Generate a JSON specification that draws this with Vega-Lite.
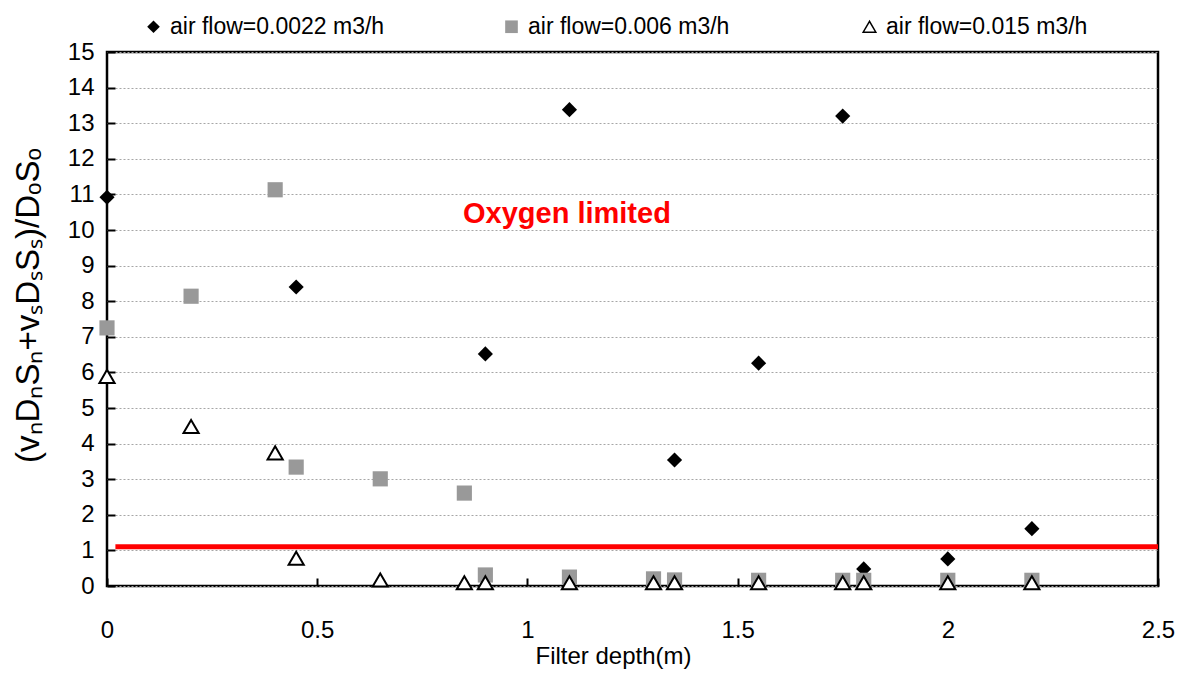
{
  "$schema": "https://vega.github.io/schema/vega-lite/v6.json",
  "width": 1051,
  "height": 534,
  "autosize": {"type": "none"},
  "padding": {"left": 107, "top": 52, "right": 28, "bottom": 87},
  "background": "white",
  "config": {
    "font": "Liberation Sans",
    "view": {"stroke": "black", "strokeWidth": 2.5},
    "axis": {"labelColor": "black", "titleColor": "black", "labelFont": "Liberation Sans", "titleFont": "Liberation Sans"}
  },
  "layer": [
    {
      "data": {"values": [
        {"series": "air flow=0.0022 m3/h", "depth": 0, "ratio": 10.92},
        {"series": "air flow=0.0022 m3/h", "depth": 0.45, "ratio": 8.4},
        {"series": "air flow=0.0022 m3/h", "depth": 0.9, "ratio": 6.52},
        {"series": "air flow=0.0022 m3/h", "depth": 1.1, "ratio": 13.38},
        {"series": "air flow=0.0022 m3/h", "depth": 1.35, "ratio": 3.54},
        {"series": "air flow=0.0022 m3/h", "depth": 1.55, "ratio": 6.26},
        {"series": "air flow=0.0022 m3/h", "depth": 1.75, "ratio": 13.2},
        {"series": "air flow=0.0022 m3/h", "depth": 1.8, "ratio": 0.48},
        {"series": "air flow=0.0022 m3/h", "depth": 2.0, "ratio": 0.76},
        {"series": "air flow=0.0022 m3/h", "depth": 2.2, "ratio": 1.61},
        {"series": "air flow=0.006 m3/h", "depth": 0, "ratio": 7.25},
        {"series": "air flow=0.006 m3/h", "depth": 0.2, "ratio": 8.14},
        {"series": "air flow=0.006 m3/h", "depth": 0.4, "ratio": 11.13},
        {"series": "air flow=0.006 m3/h", "depth": 0.45, "ratio": 3.34},
        {"series": "air flow=0.006 m3/h", "depth": 0.65, "ratio": 3.01},
        {"series": "air flow=0.006 m3/h", "depth": 0.85, "ratio": 2.61},
        {"series": "air flow=0.006 m3/h", "depth": 0.9, "ratio": 0.31},
        {"series": "air flow=0.006 m3/h", "depth": 1.1, "ratio": 0.25},
        {"series": "air flow=0.006 m3/h", "depth": 1.3, "ratio": 0.2},
        {"series": "air flow=0.006 m3/h", "depth": 1.35, "ratio": 0.17},
        {"series": "air flow=0.006 m3/h", "depth": 1.55, "ratio": 0.16},
        {"series": "air flow=0.006 m3/h", "depth": 1.75, "ratio": 0.16},
        {"series": "air flow=0.006 m3/h", "depth": 1.8, "ratio": 0.16},
        {"series": "air flow=0.006 m3/h", "depth": 2.0, "ratio": 0.16},
        {"series": "air flow=0.006 m3/h", "depth": 2.2, "ratio": 0.16},
        {"series": "air flow=0.015 m3/h", "depth": 0, "ratio": 5.89},
        {"series": "air flow=0.015 m3/h", "depth": 0.2, "ratio": 4.48},
        {"series": "air flow=0.015 m3/h", "depth": 0.4, "ratio": 3.74},
        {"series": "air flow=0.015 m3/h", "depth": 0.45, "ratio": 0.78},
        {"series": "air flow=0.015 m3/h", "depth": 0.65, "ratio": 0.17},
        {"series": "air flow=0.015 m3/h", "depth": 0.85, "ratio": 0.09},
        {"series": "air flow=0.015 m3/h", "depth": 0.9, "ratio": 0.09},
        {"series": "air flow=0.015 m3/h", "depth": 1.1, "ratio": 0.09},
        {"series": "air flow=0.015 m3/h", "depth": 1.3, "ratio": 0.09},
        {"series": "air flow=0.015 m3/h", "depth": 1.35, "ratio": 0.09},
        {"series": "air flow=0.015 m3/h", "depth": 1.55, "ratio": 0.09},
        {"series": "air flow=0.015 m3/h", "depth": 1.75, "ratio": 0.09},
        {"series": "air flow=0.015 m3/h", "depth": 1.8, "ratio": 0.09},
        {"series": "air flow=0.015 m3/h", "depth": 2.0, "ratio": 0.09},
        {"series": "air flow=0.015 m3/h", "depth": 2.2, "ratio": 0.09}
      ]},
      "mark": {"type": "point", "opacity": 1, "fillOpacity": 1, "strokeWidth": 2, "size": 230},
      "encoding": {
        "x": {
          "field": "depth", "type": "quantitative",
          "scale": {"domain": [0, 2.5], "nice": false, "zero": false},
          "axis": {
            "values": [0, 0.5, 1, 1.5, 2, 2.5], "tickCount": 20,
            "labelExpr": "datum.value",
            "grid": false, "domain": false,
            "tickSize": -8, "tickColor": "black", "tickWidth": 2,
            "labelPadding": 40, "labelFontSize": 24, "labelFlush": false, "labelOverlap": false,
            "title": "Filter depth(m)", "titleFontSize": 24, "titleFontWeight": "normal",
            "titleX": 506, "titleY": 58, "titleAlign": "center", "titleBaseline": "top"
          }
        },
        "y": {
          "field": "ratio", "type": "quantitative",
          "scale": {"domain": [0, 15], "nice": false},
          "axis": {
            "values": [0, 1, 2, 3, 4, 5, 6, 7, 8, 9, 10, 11, 12, 13, 14, 15], "tickCount": 20,
            "grid": true, "gridColor": "#a6a6a6", "gridDash": [2, 2], "gridWidth": 1,
            "domain": false,
            "tickSize": -8, "tickColor": "black", "tickWidth": 2,
            "labelPadding": 21, "labelFontSize": 24, "labelFlush": false, "labelOverlap": false,
            "title": "(vₙDₙSₙ+vₛDₛSₛ)/DₒSₒ", "titleFontSize": 33, "titleFontWeight": "normal",
            "titleAngle": -90, "titleX": -79, "titleY": 253, "titleAlign": "center", "titleBaseline": "middle"
          }
        },
        "shape": {
          "field": "series", "type": "nominal",
          "scale": {"domain": ["air flow=0.0022 m3/h", "air flow=0.006 m3/h", "air flow=0.015 m3/h"], "range": ["diamond", "square", "triangle-up"]},
          "legend": {
            "orient": "none", "legendX": 35, "legendY": -37, "direction": "horizontal",
            "columns": 3, "gridAlign": "all", "columnPadding": 115, "padding": 0,
            "title": null, "labelFontSize": 23, "labelColor": "black", "labelFont": "Liberation Sans",
            "symbolSize": 160, "symbolStrokeWidth": 1.5, "labelOffset": 5, "labelLimit": 400
          }
        },
        "fill": {
          "field": "series", "type": "nominal",
          "scale": {"domain": ["air flow=0.0022 m3/h", "air flow=0.006 m3/h", "air flow=0.015 m3/h"], "range": ["black", "#999999", "white"]},
          "legend": {
            "orient": "none", "legendX": 35, "legendY": -37, "direction": "horizontal",
            "columns": 3, "gridAlign": "all", "columnPadding": 115, "padding": 0,
            "title": null, "labelFontSize": 23, "labelColor": "black", "labelFont": "Liberation Sans",
            "symbolSize": 160, "symbolStrokeWidth": 1.5, "labelOffset": 5, "labelLimit": 400
          }
        },
        "stroke": {
          "field": "series", "type": "nominal",
          "scale": {"domain": ["air flow=0.0022 m3/h", "air flow=0.006 m3/h", "air flow=0.015 m3/h"], "range": ["transparent", "transparent", "black"]},
          "legend": {
            "orient": "none", "legendX": 35, "legendY": -37, "direction": "horizontal",
            "columns": 3, "gridAlign": "all", "columnPadding": 115, "padding": 0,
            "title": null, "labelFontSize": 23, "labelColor": "black", "labelFont": "Liberation Sans",
            "symbolSize": 160, "symbolStrokeWidth": 1.5, "labelOffset": 5, "labelLimit": 400
          }
        }
      }
    },
    {
      "data": {"values": [{"depth": 0.02, "depth_end": 2.5, "ratio": 1.1}]},
      "mark": {"type": "rule", "color": "#ff0000", "strokeWidth": 5},
      "encoding": {
        "x": {"field": "depth", "type": "quantitative"},
        "x2": {"field": "depth_end"},
        "y": {"field": "ratio", "type": "quantitative"}
      }
    },
    {
      "data": {"values": [{"depth": 1.094, "ratio": 10.46, "label": "Oxygen limited"}]},
      "mark": {"type": "text", "color": "#ff0000", "fontSize": 29, "fontWeight": "bold", "font": "Liberation Sans", "align": "center", "baseline": "middle"},
      "encoding": {
        "x": {"field": "depth", "type": "quantitative"},
        "y": {"field": "ratio", "type": "quantitative"},
        "text": {"field": "label"}
      }
    }
  ]
}
